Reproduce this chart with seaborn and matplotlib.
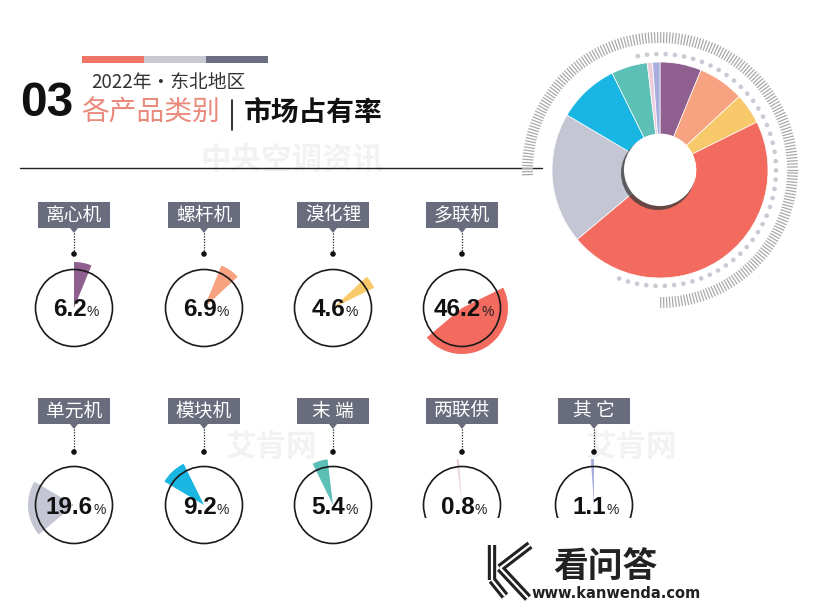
import numpy as np
import pandas as pd
import seaborn as sns
import matplotlib
matplotlib.use("Agg")
import matplotlib.pyplot as plt
from matplotlib.patches import Wedge, Circle, Rectangle, Polygon
from matplotlib.collections import LineCollection

# ---------------- data ----------------
categories = ["离心机", "螺杆机", "溴化锂", "多联机", "单元机", "模块机", "末 端", "两联供", "其 它"]
shares = [6.2, 6.9, 4.6, 46.2, 19.6, 9.2, 5.4, 0.8, 1.1]
share_labels = ["6.2", "6.9", "4.6", "46.2", "19.6", "9.2", "5.4", "0.8", "1.1"]
colors = ["#8f5f8f", "#f7a382", "#f8c96b", "#f26b5e", "#c4c6d4",
          "#19b5e3", "#5cc0b7", "#ebcddb", "#a8aee0"]
subtitle = "2022年・东北地区"
title_left = "各产品类别"
title_right = "市场占有率"
section_no = "03"

# ---------------- style ----------------
sns.set_theme(style="white")
plt.rcParams["font.family"] = ["Noto Sans CJK SC", "DejaVu Sans"]
NUMFONT = "Liberation Sans"

W, H = 831, 604
fig = plt.figure(figsize=(W / 100, H / 100), dpi=100)
ax = fig.add_axes([0, 0, 1, 1])
ax.set_xlim(0, W)
ax.set_ylim(0, H)
ax.axis("off")


def Y(y):
    return H - y


# ---------------- faint watermarks ----------------
wm = dict(color="#f2f2f2", fontsize=22, fontweight="bold", style="italic", zorder=0)
for (x, y, t) in [(200, 160, "中央空调资讯"), (225, 447, "艾肯网"), (585, 447, "艾肯网")]:
    ax.text(x, Y(y), t, va="center", ha="left", **wm)

# ---------------- header ----------------
bar_cols = ["#ee7565", "#c8c9d3", "#6a6e80"]
for i, c in enumerate(bar_cols):
    ax.add_patch(Rectangle((82 + i * 62, Y(63)), 62, 7, color=c, lw=0, zorder=2))

ax.text(20, Y(116), section_no, family=NUMFONT, fontweight="bold", fontsize=34.5,
        color="#111111", va="baseline", ha="left")
ax.text(91, Y(82), subtitle, fontsize=13.5, color="#333333", va="center", ha="left")
ax.text(81, Y(113), title_left, fontsize=20, color="#e98a7c", va="center", ha="left")
ax.plot([232, 232], [Y(100), Y(130)], color="#111111", lw=1.2)
ax.text(244, Y(113), title_right, fontsize=20, fontweight="bold", color="#111111",
        va="center", ha="left")
ax.plot([20, 542], [Y(168), Y(168)], color="#222222", lw=1.0, zorder=1)

# ---------------- big donut ----------------
cx, cy = 660, Y(170)
ang = np.deg2rad(np.arange(182, -90.1, -1.3))
segs = [[(cx + 127 * np.cos(a), cy + 127 * np.sin(a)),
         (cx + 138 * np.cos(a), cy + 138 * np.sin(a))] for a in ang]
ax.add_collection(LineCollection(segs, colors="#a9a9a9", linewidths=0.9, zorder=1))
dang = np.deg2rad(np.arange(101, -113, -4.6))
dots = pd.DataFrame({"x": cx + 116 * np.cos(dang), "y": cy + 116 * np.sin(dang)})
sns.scatterplot(data=dots, x="x", y="y", ax=ax, s=11, color="#c9cad3",
                edgecolor="none", zorder=1, legend=False)

ax.pie(shares, colors=colors, startangle=90, counterclock=False, radius=108,
       center=(cx, cy), frame=True,
       wedgeprops=dict(width=108 - 36, edgecolor="white", linewidth=0.5))
ax.add_patch(Circle((cx - 2, cy - 3), 37, color="#3a3a3a", alpha=0.75, lw=0, zorder=3))
ax.add_patch(Circle((cx, cy), 36, color="white", lw=0, zorder=4))

# ---------------- small circles ----------------
col_x = [74, 204, 333, 462, 594]
rows = [dict(box=202, dot=254, cy=308), dict(box=398, dot=452, cy=505)]
positions = [(col_x[i], 0) for i in range(4)] + [(col_x[i], 1) for i in range(5)]

cum = np.concatenate([[0], np.cumsum(shares)])
renderer = fig.canvas.get_renderer()

for k, (cat, val, lab, col) in enumerate(zip(categories, shares, share_labels, colors)):
    x, r = positions[k]
    row = rows[r]
    ccy = Y(row["cy"])
    bw, bh = 72, 26
    ax.add_patch(Rectangle((x - bw / 2, Y(row["box"] + bh)), bw, bh, color="#686c7c", lw=0, zorder=2))
    ax.add_patch(Polygon([(x - 4, Y(row["box"] + bh)), (x + 4, Y(row["box"] + bh)),
                          (x, Y(row["box"] + bh + 5))], closed=True, color="#686c7c", lw=0, zorder=2))
    ax.text(x, Y(row["box"] + bh / 2), cat, color="white", fontsize=13.5,
            ha="center", va="center", zorder=3)
    ax.plot([x, x], [Y(row["box"] + bh + 5), Y(row["dot"])], color="#222222",
            lw=0.9, ls=(0, (1, 1.2)), zorder=2)
    sns.scatterplot(x=[x], y=[Y(row["dot"])], ax=ax, s=16, color="#111111",
                    edgecolor="none", zorder=3, legend=False)
    t1 = 90 - cum[k + 1] * 3.6
    t2 = 90 - cum[k] * 3.6
    ax.add_patch(Wedge((x, ccy), 46, t1, t2, color=col, lw=0, zorder=2))
    ax.add_patch(Circle((x, ccy), 38.5, fill=False, ec="#1a1a1a", lw=1.2, zorder=3))
    t = ax.text(0, 0, lab, family=NUMFONT, fontweight="bold", fontsize=17.5,
                color="#111111", ha="left", va="baseline", zorder=5)
    nw = t.get_window_extent(renderer=renderer).width
    pw = 9
    left = x - (nw + pw) / 2
    t.set_position((left, ccy - 8.5))
    ax.text(left + nw + 0.5, ccy - 8.5, "%", fontsize=10, color="#222222",
            family=NUMFONT, ha="left", va="baseline", zorder=5)

# ---------------- bottom watermark (kanwenda) ----------------
ax.add_patch(Rectangle((405, 0), W - 405, Y(518), color="white", lw=0, zorder=6))
logo = [[(492, 545), (492, 580)], [(530, 545), (500, 568)], [(500, 568), (528, 598)],
        [(492, 580), (505, 596)]]
for seg in logo:
    xs = [p[0] for p in seg]
    ys = [Y(p[1]) for p in seg]
    ax.plot(xs, ys, color="#222222", lw=6, solid_capstyle="butt", zorder=7)
    ax.plot(xs, ys, color="white", lw=1.6, solid_capstyle="butt", zorder=8)
ax.text(553, Y(566), "看问答", fontsize=25, fontweight="bold", color="#222222",
        ha="left", va="center", zorder=8)
ax.text(531, Y(593), "www.kanwenda.com", fontsize=10.5, fontweight="bold",
        color="#222222", family="DejaVu Sans", ha="left", va="center", zorder=8)

ax.set_xlim(0, W)
ax.set_ylim(0, H)
ax.set_aspect("auto")
fig.savefig("out.png", dpi=100, facecolor="white")
